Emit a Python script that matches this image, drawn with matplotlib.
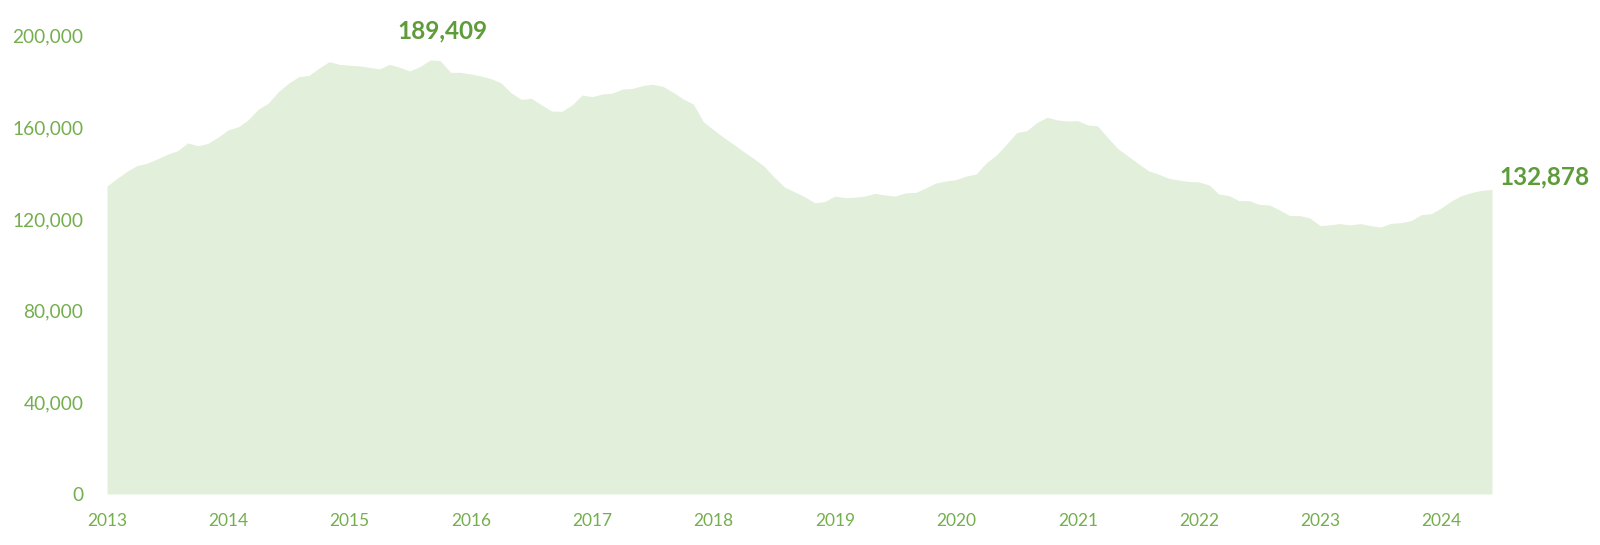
import matplotlib
matplotlib.use("Agg")
import matplotlib.pyplot as plt
import matplotlib.dates as mdates
import matplotlib.ticker as mticker
import pandas as pd

# Monthly values, Jan 2013 .. Jun 2024
start_month = "2013-01-01"
values = [
    134400, 137800, 140700, 143300, 144300, 146200, 148200, 149800, 153200, 152000,
    153000, 155700, 158900, 160300, 163200, 167900, 170500, 175600, 179200, 182100,
    182700, 185800, 188700, 187500, 187100, 186800, 186200, 185500, 187500, 186200,
    184600, 186500, 189409, 189100, 184000, 184000, 183300, 182400, 181300, 179400,
    175100, 172200, 172700, 169800, 167100, 167000, 169800, 174100, 173400, 174600,
    174900, 176700, 177000, 178200, 178800, 177900, 175300, 172400, 170100, 162500,
    158900, 155500, 152700, 149400, 146500, 143100, 138500, 134100, 131900, 129800,
    127100, 127600, 130000, 129300, 129500, 130000, 131200, 130500, 130000, 131400,
    131600, 133500, 135700, 136600, 137200, 138800, 139600, 144600, 147900, 152700,
    157700, 158600, 162200, 164400, 163200, 162800, 162900, 161000, 160700, 155500,
    150800, 147500, 144300, 141100, 139600, 137800, 137000, 136400, 136200, 134800,
    130900, 130200, 128000, 128000, 126400, 126100, 123900, 121500, 121500, 120400,
    117100, 117500, 118000, 117400, 118000, 117100, 116500, 118100, 118400, 119300,
    121900, 122300, 124900, 128000, 130200, 131600, 132500, 132878,
]
y_ticks = [0, 40000, 80000, 120000, 160000, 200000]
peak_label = "189,409"
last_label = "132,878"

fill_color = "#E2EFDA"
tick_color = "#74AE4E"
annot_color = "#5E9C3A"
font = ["Lato", "DejaVu Sans"]

dates = pd.date_range(start_month, periods=len(values), freq="MS")

fig = plt.figure(figsize=(16, 5.45), dpi=100)
ax = fig.add_axes([0.0669, 0.0936, 0.8656, 0.8409])

ax.fill_between(dates, values, 0, color=fill_color, linewidth=0)

ax.set_xlim(dates[0], dates[-1])
ax.set_ylim(0, 200000)
ax.set_yticks(y_ticks)
ax.yaxis.set_major_formatter(mticker.FuncFormatter(lambda v, p: f"{int(v):,}"))
ax.xaxis.set_major_locator(mdates.YearLocator())
ax.xaxis.set_major_formatter(mdates.DateFormatter("%Y"))

for s in ax.spines.values():
    s.set_visible(False)
ax.tick_params(axis="both", length=0, colors=tick_color)
ax.tick_params(axis="y", pad=17, labelsize=13.8)
ax.tick_params(axis="x", pad=14, labelsize=12.5)
for lab in ax.get_xticklabels() + ax.get_yticklabels():
    lab.set_family(font)

i_peak = max(range(len(values)), key=lambda i: values[i])
ax.annotate(peak_label, xy=(dates[i_peak], values[i_peak]), xytext=(9, 21),
            textcoords="offset points", ha="center", va="center",
            fontsize=17.5, fontweight="bold", color=annot_color, family=font,
            annotation_clip=False)
ax.annotate(last_label, xy=(dates[-1], values[-1]), xytext=(5, 9),
            textcoords="offset points", ha="left", va="center",
            fontsize=17.5, fontweight="bold", color=annot_color, family=font,
            annotation_clip=False)

fig.savefig("out.png", dpi=100, facecolor="white")
